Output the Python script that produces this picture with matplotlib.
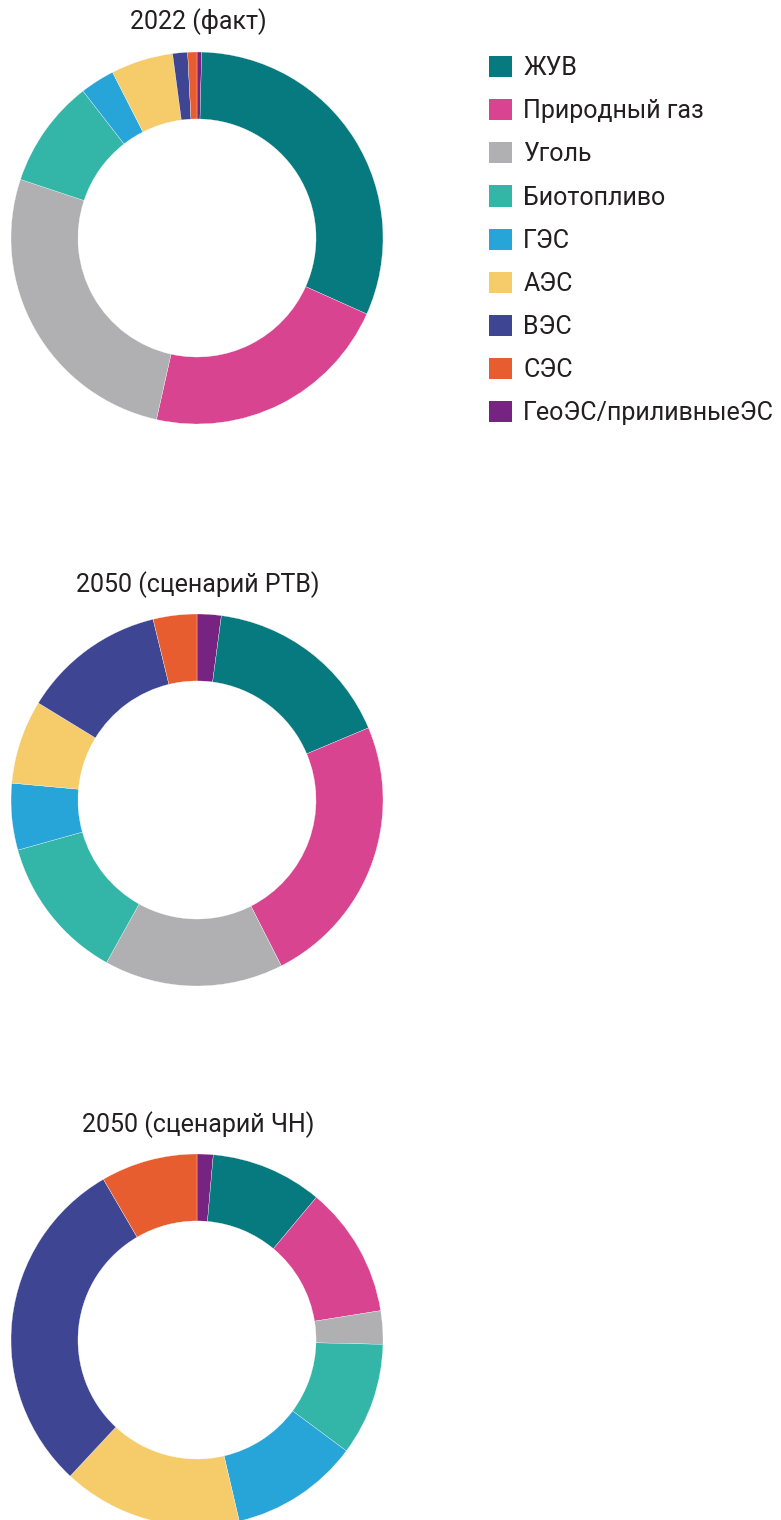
import matplotlib.pyplot as plt
from matplotlib.patches import Patch

plt.rcParams['font.family'] = ['Roboto', 'DejaVu Sans']

# Categories in legend order
labels = ['ЖУВ', 'Природный газ', 'Уголь', 'Биотопливо', 'ГЭС',
          'АЭС', 'ВЭС', 'СЭС', 'ГеоЭС/приливныеЭС']
colors = ['#067a7e', '#d94490', '#b0b0b2', '#33b5a8', '#28a5d8',
          '#f6cb69', '#3e4693', '#e85d2f', '#762382']

# Shares, %, same order as labels
share_2022 = [31.3, 21.8, 26.6, 9.4, 3.0, 5.4, 1.3, 0.8, 0.4]
share_rtv = [16.6, 23.9, 15.6, 12.6, 5.8, 7.3, 12.5, 3.8, 2.1]
share_chn = [9.7, 11.4, 2.9, 9.8, 11.2, 15.6, 29.7, 8.4, 1.4]

titles = ['2022 (факт)', '2050 (сценарий РТВ)', '2050 (сценарий ЧН)']
datasets = [share_2022, share_rtv, share_chn]

W, H = 781, 1520
fig = plt.figure(figsize=(W / 100, H / 100), dpi=100)

R = 186            # outer radius in pixels
centers_y = [238, 800, 1340]   # from top
title_y = [22, 585, 1125]

for vals, title, cy, ty in zip(datasets, titles, centers_y, title_y):
    ax = fig.add_axes([(197 - R) / W, (H - cy - R) / H, 2 * R / W, 2 * R / H])
    # ГеоЭС sits first clockwise from the top, then ЖУВ ... СЭС
    v = [vals[-1]] + vals[:-1]
    c = [colors[-1]] + colors[:-1]
    ax.pie(v, colors=c, startangle=90, counterclock=False, radius=1,
           wedgeprops=dict(width=0.36, edgecolor='white', linewidth=0.2))
    ax.set_xlim(-1, 1)
    ax.set_ylim(-1, 1)
    ax.set_aspect('equal')
    ax.axis('off')
    fig.text(198 / W, 1 - ty / H, title, ha='center', va='center',
             fontsize=18, color='#231f20')

handles = [Patch(facecolor=col, edgecolor='none') for col in colors]
fig.legend(handles, labels, loc='upper left',
           bbox_to_anchor=(489 / W, 1 - 56 / H), frameon=False,
           fontsize=18, handlelength=0.92, handleheight=0.92,
           handletextpad=0.45, labelspacing=0.76, labelcolor='#231f20',
           borderaxespad=0, borderpad=0)

fig.savefig('out.png', dpi=100)
